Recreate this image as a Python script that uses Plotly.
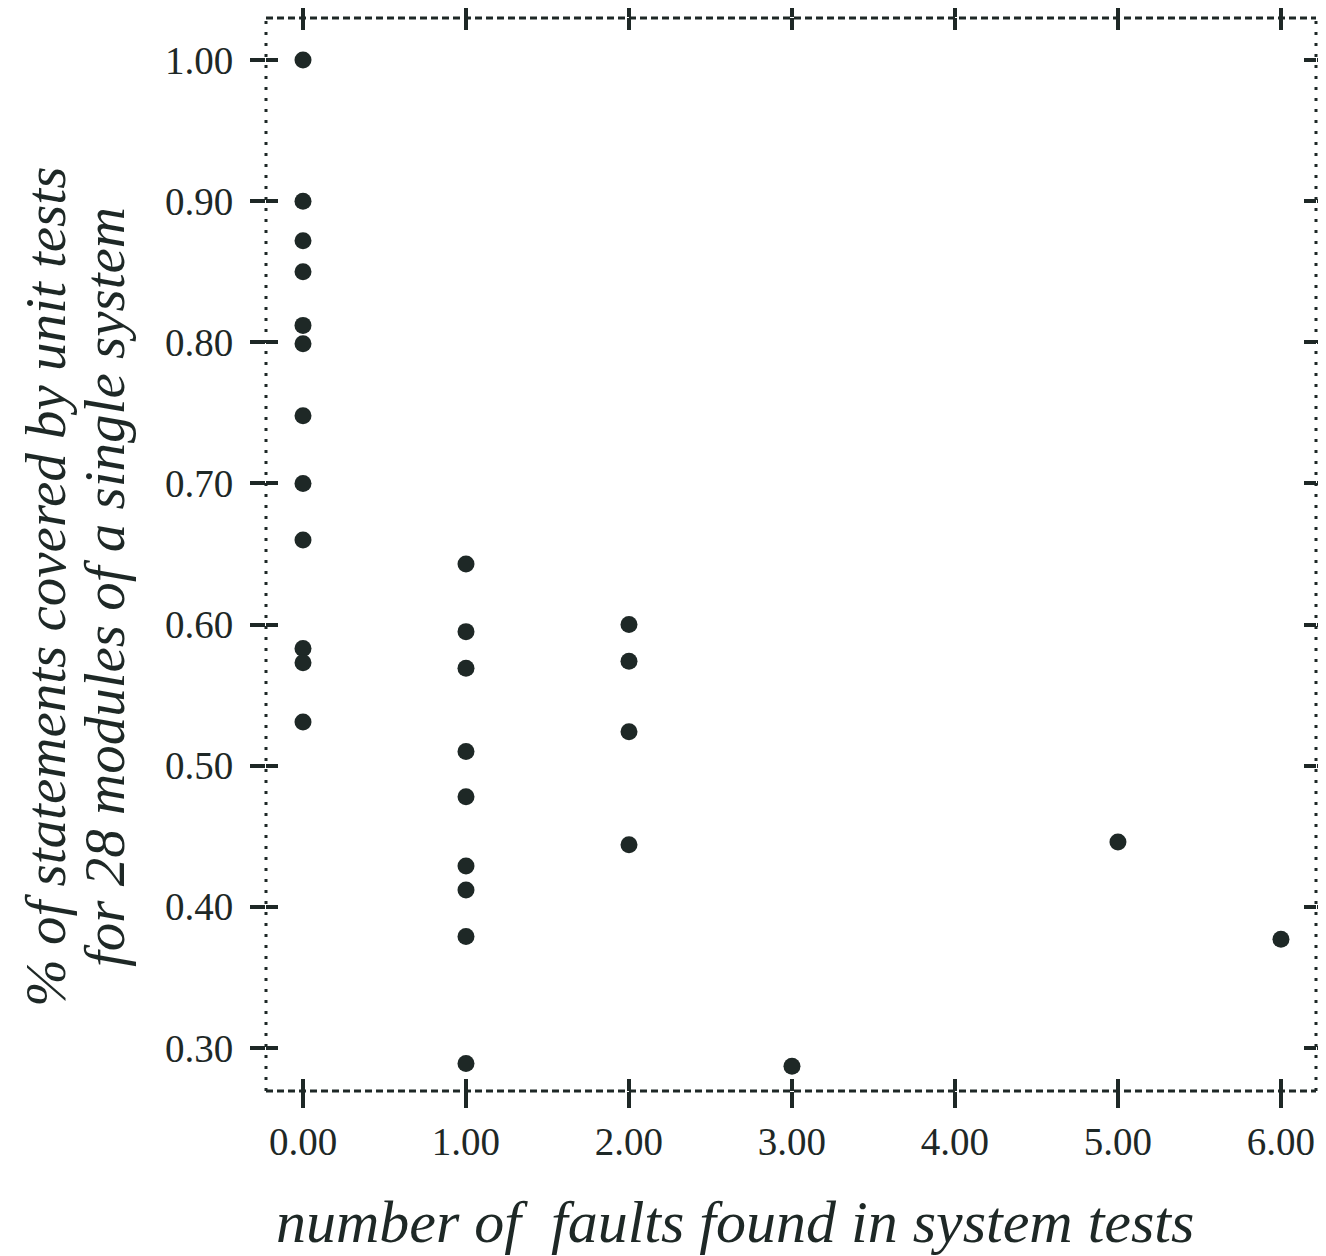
import plotly.graph_objects as go

# Data: faults found in system tests (x) vs. statement coverage (y), 28 modules
faults = [0, 0, 0, 0, 0, 0, 0, 0, 0, 0, 0, 0,
          1, 1, 1, 1, 1, 1, 1, 1, 1,
          2, 2, 2, 2,
          3, 5, 6]
coverage = [1.00, 0.90, 0.872, 0.850, 0.812, 0.799, 0.748, 0.700, 0.660, 0.583, 0.573, 0.531,
            0.643, 0.595, 0.569, 0.510, 0.478, 0.429, 0.412, 0.379, 0.289,
            0.600, 0.574, 0.524, 0.444,
            0.287, 0.446, 0.377]

x_ticks = [0, 1, 2, 3, 4, 5, 6]
x_labels = ["0.00", "1.00", "2.00", "3.00", "4.00", "5.00", "6.00"]
y_ticks = [0.30, 0.40, 0.50, 0.60, 0.70, 0.80, 0.90, 1.00]
y_labels = ["0.30", "0.40", "0.50", "0.60", "0.70", "0.80", "0.90", "1.00"]

x_title = "number of\u00a0 faults found in system tests"
y_title_1 = "% of statements covered by unit tests"
y_title_2 = "for 28 modules of a single system"

INK = "#1e2826"
FONT = "Liberation Serif, Times New Roman, serif"
XR = [-0.227, 6.215]
YR = [0.2695, 1.0298]

fig = go.Figure()
fig.add_trace(go.Scatter(
    x=faults, y=coverage, mode="markers",
    marker=dict(size=17, color=INK, line=dict(width=0)),
    showlegend=False, hoverinfo="x+y"))
# invisible trace to activate overlay axes (inside half of the cross ticks)
fig.add_trace(go.Scatter(x=[None], y=[None], xaxis="x2", yaxis="y2", showlegend=False))

common_x = dict(range=XR, tickvals=x_ticks, showgrid=False, zeroline=False,
                showline=False, tickwidth=4, tickcolor=INK, mirror="ticks",
                automargin=False)
common_y = dict(range=YR, tickvals=y_ticks, showgrid=False, zeroline=False,
                showline=False, tickwidth=4, tickcolor=INK, mirror="ticks",
                automargin=False)

# page body has an 8px default margin; figure is sized to compensate
fig.update_layout(
    width=1318, height=1248,
    margin=dict(l=258, r=10, t=10, b=165, autoexpand=False),
    paper_bgcolor="white", plot_bgcolor="white",
    font=dict(family=FONT, color=INK, size=39),
    xaxis=dict(**common_x, ticks="outside", ticklen=16, ticktext=x_labels,
               tickfont=dict(family=FONT, size=39, color=INK)),
    yaxis=dict(**common_y, ticks="outside", ticklen=15, ticktext=y_labels,
               ticklabelstandoff=9,
               tickfont=dict(family=FONT, size=39, color=INK)),
    xaxis2=dict(**common_x, overlaying="x", ticks="inside", ticklen=12,
                showticklabels=False),
    yaxis2=dict(**common_y, overlaying="y", ticks="inside", ticklen=12,
                showticklabels=False),
)

# dotted/dashed frame
for x0, x1, y0, y1, dash in [(0, 0, 0, 1, "3px,8px"), (1, 1, 0, 1, "3px,8px"),
                             (0, 1, 0, 0, "7px,4px"), (0, 1, 1, 1, "7px,4px")]:
    fig.add_shape(type="line", xref="paper", yref="paper",
                  x0=x0, x1=x1, y0=y0, y1=y1,
                  line=dict(color=INK, width=3, dash=dash))

# axis titles
fig.add_annotation(xref="paper", yref="paper", x=0.4467, y=-0.122, yanchor="middle",
                   showarrow=False, text="<i>" + x_title + "</i>",
                   font=dict(family=FONT, size=60, color=INK))
fig.add_annotation(xref="paper", yref="paper", x=-0.2095, y=0.47,
                   xanchor="center", yanchor="middle",
                   showarrow=False, textangle=-90, text="<i>" + y_title_1 + "</i>",
                   font=dict(family=FONT, size=57, color=INK))
fig.add_annotation(xref="paper", yref="paper", x=-0.154, y=0.47,
                   xanchor="center", yanchor="middle",
                   showarrow=False, textangle=-90, text="<i>" + y_title_2 + "</i>",
                   font=dict(family=FONT, size=57, color=INK))

fig.write_html("out.html")
